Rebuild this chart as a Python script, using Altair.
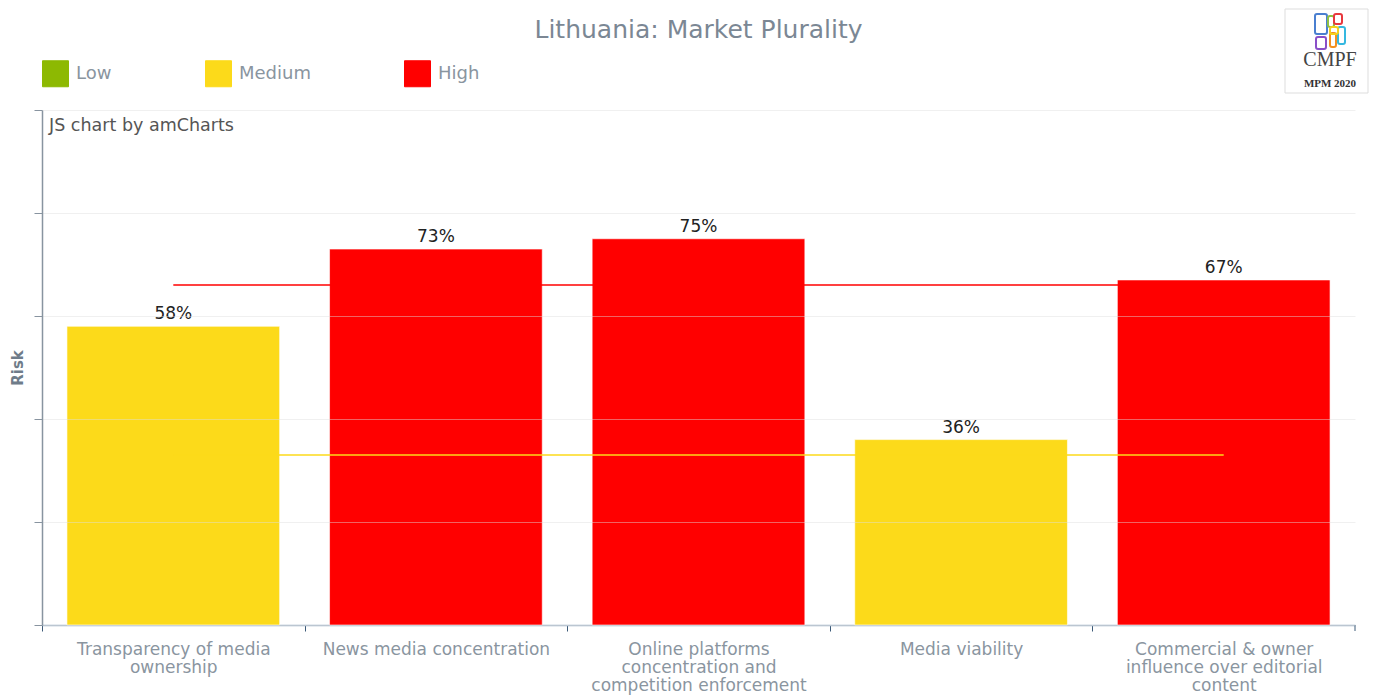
import json
import altair as alt
import pandas as pd

# ---------------- data ----------------
categories = [
    "Transparency of media ownership",
    "News media concentration",
    "Online platforms concentration and competition enforcement",
    "Media viability",
    "Commercial & owner influence over editorial content",
]
label_lines = [
    ["Transparency of media", "ownership"],
    ["News media concentration"],
    ["Online platforms", "concentration and", "competition enforcement"],
    ["Media viability"],
    ["Commercial & owner", "influence over editorial", "content"],
]
risk_values = [58, 73, 75, 36, 67]
risk_levels = ["Medium", "High", "High", "Medium", "High"]

level_names = ["Low", "Medium", "High"]
level_colors = ["#8DB902", "#FCDA1A", "#FF0000"]

threshold_values = [66, 33]
threshold_levels = ["High", "Medium"]

# ---------------- layout ----------------
W, H = 1313, 515
FONT = "DejaVu Sans"
GREY = "#8a959f"
STEP = W / len(categories)

df = pd.DataFrame({"category": categories, "risk": risk_values, "level": risk_levels})
thr = pd.DataFrame({
    "start": [categories[0]] * len(threshold_values),
    "end": [categories[-1]] * len(threshold_values),
    "value": threshold_values,
    "level": threshold_levels,
})

label_expr = ""
for c, lines in zip(categories, label_lines):
    label_expr += f"datum.value == {json.dumps(c)} ? {json.dumps(lines)} : "
label_expr += "datum.label"

x_scale = alt.Scale(domain=categories, paddingInner=0.19, paddingOuter=0.095)
y_scale = alt.Scale(domain=[0, 100], nice=False)
color_scale = alt.Scale(domain=level_names, range=level_colors)

x_enc = alt.X(
    "category:N",
    scale=x_scale,
    sort=categories,
    axis=alt.Axis(
        title=None,
        labelExpr=label_expr,
        labelAngle=0,
        labelAlign="center",
        labelBaseline="top",
        labelPadding=10,
        labelLineHeight=18,
        labelFontSize=17,
        labelFont=FONT,
        labelColor=GREY,
        labelLimit=0,
        tickOffset=-STEP / 2,
        labelOffset=STEP / 2,
        tickColor="#3c5a78",
        tickSize=6,
        domainColor="#9fb3c6",
        domainWidth=1.5,
        grid=False,
    ),
)
y_enc = alt.Y(
    "risk:Q",
    scale=y_scale,
    axis=alt.Axis(
        title="Risk",
        titleFont=FONT,
        titleFontSize=15,
        titleFontWeight="bold",
        titleColor="#6f7c89",
        titlePadding=8,
        labels=False,
        values=[0, 20, 40, 60, 80, 100],
        tickSize=8,
        tickColor="#8894a0",
        domainColor="#8894a0",
        domainWidth=1.5,
        grid=True,
        gridColor="#dddddd",
        gridOpacity=0.45,
        zindex=1,
    ),
)

bars = alt.Chart(df).mark_bar(stroke="white", strokeOpacity=0.6, strokeWidth=1).encode(
    x=x_enc,
    y=y_enc,
    color=alt.Color(
        "level:N",
        scale=color_scale,
        legend=alt.Legend(
            orient="none",
            legendX=0,
            legendY=-50,
            direction="horizontal",
            title=None,
            symbolType="square",
            symbolSize=676,
            symbolStrokeColor="white",
            symbolStrokeWidth=1,
            symbolOpacity=1,
            labelFontSize=18,
            labelFont=FONT,
            labelColor=GREY,
            labelOffset=7,
            columnPadding=91,
            padding=0,
        ),
    ),
)

rules = alt.Chart(thr).mark_rule(strokeWidth=1.5).encode(
    x=alt.X("start:N", scale=x_scale, sort=categories),
    x2=alt.X2("end:N", bandPosition=0.5),
    y=alt.Y("value:Q", scale=y_scale),
    color=alt.Color("level:N", scale=color_scale),
)

texts = alt.Chart(df).transform_calculate(lbl="datum.risk + '%'").mark_text(
    baseline="bottom", dy=-3, fontSize=17, font=FONT, color="#222222"
).encode(
    x=alt.X("category:N", scale=x_scale, sort=categories),
    y=alt.Y("risk:Q", scale=y_scale),
    text="lbl:N",
)

one = pd.DataFrame({"a": [0]})
credit = alt.Chart(one).mark_text(
    align="left", baseline="middle", fontSize=17.5, font=FONT, color="#555555"
).encode(x=alt.value(7), y=alt.value(16), text=alt.value("JS chart by amCharts"))

end_tick = alt.Chart(one).mark_rule(color="#3c5a78", strokeWidth=1).encode(
    x=alt.value(W), y=alt.value(H), y2=alt.value(H + 6)
)

# logo (decoration)
logo_layers = [
    alt.Chart(one).mark_rect(fill="white", stroke="#dddddd", strokeWidth=1).encode(
        x=alt.value(1243), x2=alt.value(1326), y=alt.value(-101), y2=alt.value(-17)
    )
]
logo_shapes = [
    ("#4a7fd0", 1273, 1285, -96, -76),
    ("#8fc043", 1286, 1292, -94, -83),
    ("#e8383d", 1292, 1300, -96, -86),
    ("#8a4fc8", 1274, 1284, -73, -61),
    ("#f39020", 1288, 1294, -77, -63),
    ("#35b8e0", 1296, 1303, -83, -66),
    ("#f6d11a", 1288, 1296, -83, -76),
]
for col, xa, xb, ya, yb in logo_shapes:
    logo_layers.append(
        alt.Chart(one).mark_rect(fillOpacity=0, stroke=col, strokeWidth=2, cornerRadius=2).encode(
            x=alt.value(xa), x2=alt.value(xb), y=alt.value(ya), y2=alt.value(yb)
        )
    )
logo_layers.append(
    alt.Chart(one).mark_text(fontSize=20, font="Liberation Serif", color="#444444", baseline="middle").encode(
        x=alt.value(1288), y=alt.value(-50), text=alt.value("CMPF")
    )
)
logo_layers.append(
    alt.Chart(one).mark_text(fontSize=11, font="Liberation Serif", fontWeight="bold", color="#333333", baseline="middle").encode(
        x=alt.value(1288), y=alt.value(-26), text=alt.value("MPM 2020")
    )
)

chart = alt.layer(bars, rules, texts, credit, end_tick, *logo_layers).properties(
    width=W,
    height=H,
    title=alt.TitleParams(
        "Lithuania: Market Plurality",
        fontSize=25,
        font=FONT,
        fontWeight="normal",
        color="#7b8794",
        anchor="middle",
        offset=-34,
    ),
    autosize=alt.AutoSizeParams(type="none"),
    padding={"left": 34, "top": 102, "right": 14, "bottom": 72},
).configure_view(stroke=None)

chart.save("out.html", embed_options={"renderer": "svg", "actions": False})
